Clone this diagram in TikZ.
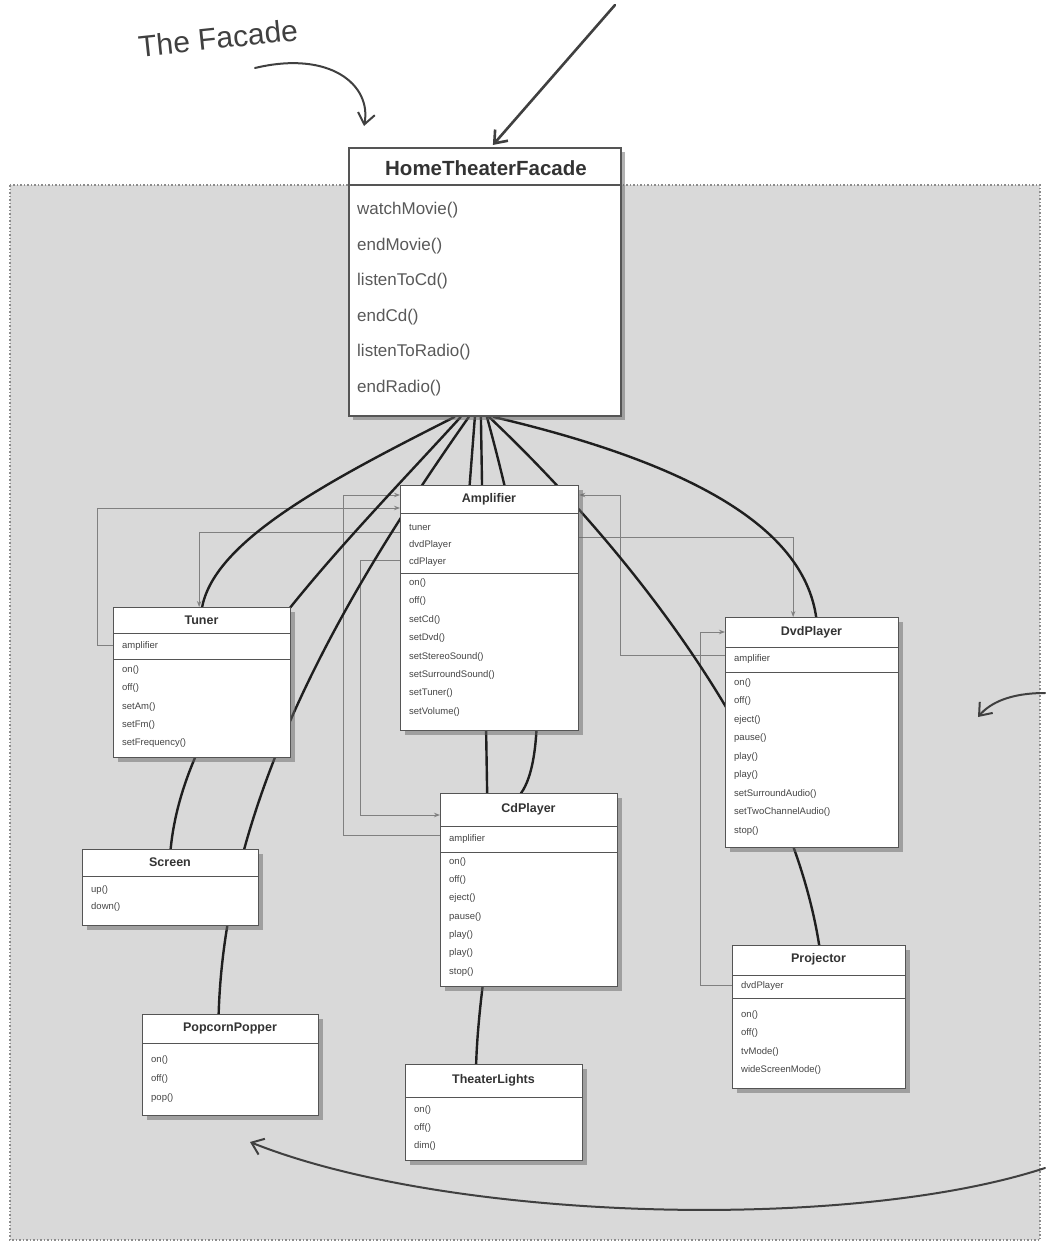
\documentclass[tikz,border=0pt]{standalone}
\usepackage{fontspec}
\setmainfont{Liberation Sans}
\usetikzlibrary{arrows.meta,shadows,calc}
\pgfdeclarelayer{back}
\pgfdeclarelayer{links}
\pgfsetlayers{back,links,main}
\definecolor{bggray}{HTML}{D9D9D9}
\definecolor{boxline}{HTML}{555555}
\definecolor{txt}{HTML}{444444}
\definecolor{ink}{HTML}{404040}
\tikzset{
  umlbox/.style={draw=boxline, line width=1.3pt, fill=white, anchor=north west, inner sep=0pt,
    drop shadow={shadow xshift=4pt, shadow yshift=-4pt, fill=black!60, opacity=0.5}},
  sep/.style={draw=boxline, line width=1pt},
  ctitle/.style={font=\bfseries\fontsize{12.5}{14}\selectfont, text=black!80, inner sep=0pt},
  item/.style={font=\fontsize{9.5}{10}\selectfont, text=txt, anchor=west, inner sep=0pt},
  fitem/.style={font=\fontsize{17}{19}\selectfont, text=black!65, anchor=west, inner sep=0pt},
  ftitle/.style={font=\bfseries\fontsize{20.5}{22}\selectfont, text=black!80, inner sep=0pt},
  biglink/.style={draw=black!88, line width=2.4pt},
  assoc/.style={draw=black!50, line width=1pt},
  assocarrow/.style={assoc, -{Stealth[length=6pt,width=4.5pt]}},
  notearrow/.style={draw=ink, line width=2.6pt, line cap=round, -{Straight Barb[length=11pt,width=17pt]}},
}
\newcommand\rows[4][item]{\foreach \yy/\itxt [count=\i] in {#4} {\node[#1] (#2-\i) at (#3,\yy) {\itxt};}}
\begin{document}
\begin{tikzpicture}[x=1pt,y=-1pt]
\useasboundingbox (0,0) rectangle (1045,1247);
\begin{pgfonlayer}{back}
  \fill[bggray] (10,185) rectangle (1040,1240);
  \draw[black!45, line width=1.5pt, dotted] (10,185) rectangle (1040,1240);
\end{pgfonlayer}

% ---------- Facade ----------
\node[umlbox, line width=1.8pt, minimum width=272pt, minimum height=268pt] (fac) at (348,147) {};
\node[ftitle] (fac-t) at (486,168) {HomeTheaterFacade};
\draw[sep, line width=1.5pt] ($(fac.north west)+(0,38)$) -- ($(fac.north east)+(0,38)$);
\rows[fitem]{fac-m}{357}{210/watchMovie(),245.6/endMovie(),281.2/listenToCd(),316.8/endCd(),352.4/listenToRadio(),388/endRadio()}

% ---------- Amplifier ----------
\node[umlbox, minimum width=178pt, minimum height=245pt] (amp) at (400,485) {};
\node[ctitle] (amp-t) at (489,499) {Amplifier};
\draw[sep] ($(amp.north west)+(0,28)$) -- ($(amp.north east)+(0,28)$);
\draw[sep] ($(amp.north west)+(0,88)$) -- ($(amp.north east)+(0,88)$);
\rows{amp-a}{409}{527/tuner,545/dvdPlayer,562/cdPlayer}
\rows{amp-m}{409}{583/on(),601/off(),620/setCd(),638/setDvd(),657/setStereoSound(),675/setSurroundSound(),693/setTuner(),712/setVolume()}

% ---------- Tuner ----------
\node[umlbox, minimum width=177pt, minimum height=150pt] (tun) at (113,607) {};
\node[ctitle] (tun-t) at (201.5,620) {Tuner};
\draw[sep] ($(tun.north west)+(0,26)$) -- ($(tun.north east)+(0,26)$);
\draw[sep] ($(tun.north west)+(0,52)$) -- ($(tun.north east)+(0,52)$);
\rows{tun-a}{122}{646/amplifier}
\rows{tun-m}{122}{670/on(),688/off(),707/setAm(),725/setFm(),743/setFrequency()}

% ---------- DvdPlayer ----------
\node[umlbox, minimum width=173pt, minimum height=230pt] (dvd) at (725,617) {};
\node[ctitle] (dvd-t) at (811.5,632) {DvdPlayer};
\draw[sep] ($(dvd.north west)+(0,30)$) -- ($(dvd.north east)+(0,30)$);
\draw[sep] ($(dvd.north west)+(0,55)$) -- ($(dvd.north east)+(0,55)$);
\rows{dvd-a}{734}{659/amplifier}
\rows{dvd-m}{734}{683/on(),701.5/off(),720/eject(),738.5/pause(),757/play(),775.5/play(),794/setSurroundAudio(),812.5/setTwoChannelAudio(),831/stop()}

% ---------- CdPlayer ----------
\node[umlbox, minimum width=177pt, minimum height=193pt] (cd) at (440,793) {};
\node[ctitle] (cd-t) at (528.5,809) {CdPlayer};
\draw[sep] ($(cd.north west)+(0,33)$) -- ($(cd.north east)+(0,33)$);
\draw[sep] ($(cd.north west)+(0,59)$) -- ($(cd.north east)+(0,59)$);
\rows{cd-a}{449}{839/amplifier}
\rows{cd-m}{449}{862/on(),880/off(),898/eject(),917/pause(),935/play(),953/play(),972/stop()}

% ---------- Screen ----------
\node[umlbox, minimum width=176pt, minimum height=76pt] (scr) at (82,849) {};
\node[ctitle] (scr-t) at (170,862) {Screen};
\draw[sep] ($(scr.north west)+(0,27)$) -- ($(scr.north east)+(0,27)$);
\rows{scr-m}{91}{890/up(),907/down()}

% ---------- PopcornPopper ----------
\node[umlbox, minimum width=176pt, minimum height=101pt] (pop) at (142,1014) {};
\node[ctitle] (pop-t) at (230,1028) {PopcornPopper};
\draw[sep] ($(pop.north west)+(0,29)$) -- ($(pop.north east)+(0,29)$);
\rows{pop-m}{151}{1060/on(),1079/off(),1098/pop()}

% ---------- TheaterLights ----------
\node[umlbox, minimum width=177pt, minimum height=96pt] (tl) at (405,1064) {};
\node[ctitle] (tl-t) at (493.5,1080) {TheaterLights};
\draw[sep] ($(tl.north west)+(0,33)$) -- ($(tl.north east)+(0,33)$);
\rows{tl-m}{414}{1110/on(),1128/off(),1146/dim()}

% ---------- Projector ----------
\node[umlbox, minimum width=173pt, minimum height=143pt] (proj) at (732,945) {};
\node[ctitle] (proj-t) at (818.5,959) {Projector};
\draw[sep] ($(proj.north west)+(0,30)$) -- ($(proj.north east)+(0,30)$);
\draw[sep] ($(proj.north west)+(0,53)$) -- ($(proj.north east)+(0,53)$);
\rows{proj-a}{741}{986/dvdPlayer}
\rows{proj-m}{741}{1015/on(),1033/off(),1052/tvMode(),1070/wideScreenMode()}

% ---------- connectors ----------
\begin{pgfonlayer}{links}
  % associations between subsystem classes
  \draw[assocarrow] ($(tun.north west)+(0,38)$) -- ++(-16,0) |- ($(amp.north west)+(0,23)$);
  \draw[assocarrow] ($(amp.north west)+(0,47)$) -| ($(tun.north)+(-3,0)$);
  \draw[assocarrow] ($(amp.north west)+(0,75)$) -- ++(-40,0) |- ($(cd.north west)+(0,22)$);
  \draw[assocarrow] ($(cd.north west)+(0,42)$) -- ++(-97,0) |- ($(amp.north west)+(0,10)$);
  \draw[assocarrow] ($(dvd.north west)+(0,38)$) -- ++(-105,0) |- ($(amp.north east)+(0,10)$);
  \draw[assocarrow] ($(amp.north east)+(0,52)$) -| ($(dvd.north)+(-19,0)$);
  \draw[assocarrow] ($(proj.north west)+(0,40)$) -- ++(-32,0) |- ($(dvd.north west)+(0,15)$);
  % facade to subsystem
  \draw[biglink] ($(fac.south)+(-30,0)$) .. controls (330,480) and (215,540) .. (tun.north);
  \draw[biglink] ($(fac.south)+(-24,0)$) .. controls (330,560) and (185,700) .. (scr.north);
  \draw[biglink] ($(fac.south)+(-16,0)$) .. controls (340,600) and (225,800) .. ($(pop.north)+(-12,0)$);
  \draw[biglink] ($(fac.south)+(-10,0)$) -- ($(amp.north)+(-20,0)$);
  \draw[biglink] ($(fac.south)+(-4,0)$) -- ($(cd.north)+(-42,0)$);
  \draw[biglink] ($(fac.south)+(2,0)$) .. controls (548,640) and (545,760) .. ($(cd.north)+(-8,0)$)
     .. controls (495,880) and (478,1000) .. ($(tl.north)+(-18,0)$);
  \draw[biglink] ($(fac.south)+(8,0)$) .. controls (720,470) and (805,540) .. ($(dvd.north)+(4,0)$);
  \draw[biglink] ($(fac.south)+(4,0)$) .. controls (640,560) and (790,760) .. (proj.north);
\end{pgfonlayer}

% ---------- annotations ----------
\node[font=\fontsize{30}{30}\selectfont, text=ink, rotate=6] (facadelabel) at (218,38) {The Facade};
\coordinate (fa1) at (255,68);
\coordinate (fa2) at (364,126);
\draw[notearrow, line width=2pt] (fa1) .. controls (330,50) and (372,85) .. (fa2);
\coordinate (ba1) at (615,5);
\draw[notearrow] (ba1) -- ($(fac.north)+(8,-2)$);
\coordinate (ra1) at (1045,693);
\coordinate (ra2) at (978,717);
\draw[notearrow, line width=2pt] (ra1) .. controls (1010,693) and (990,703) .. (ra2);
\coordinate (la1) at (1045,1168);
\coordinate (la2) at (250,1142);
\draw[notearrow, line width=2pt] (la1) .. controls (850,1232) and (450,1222) .. (la2);
\end{tikzpicture}
\end{document}
